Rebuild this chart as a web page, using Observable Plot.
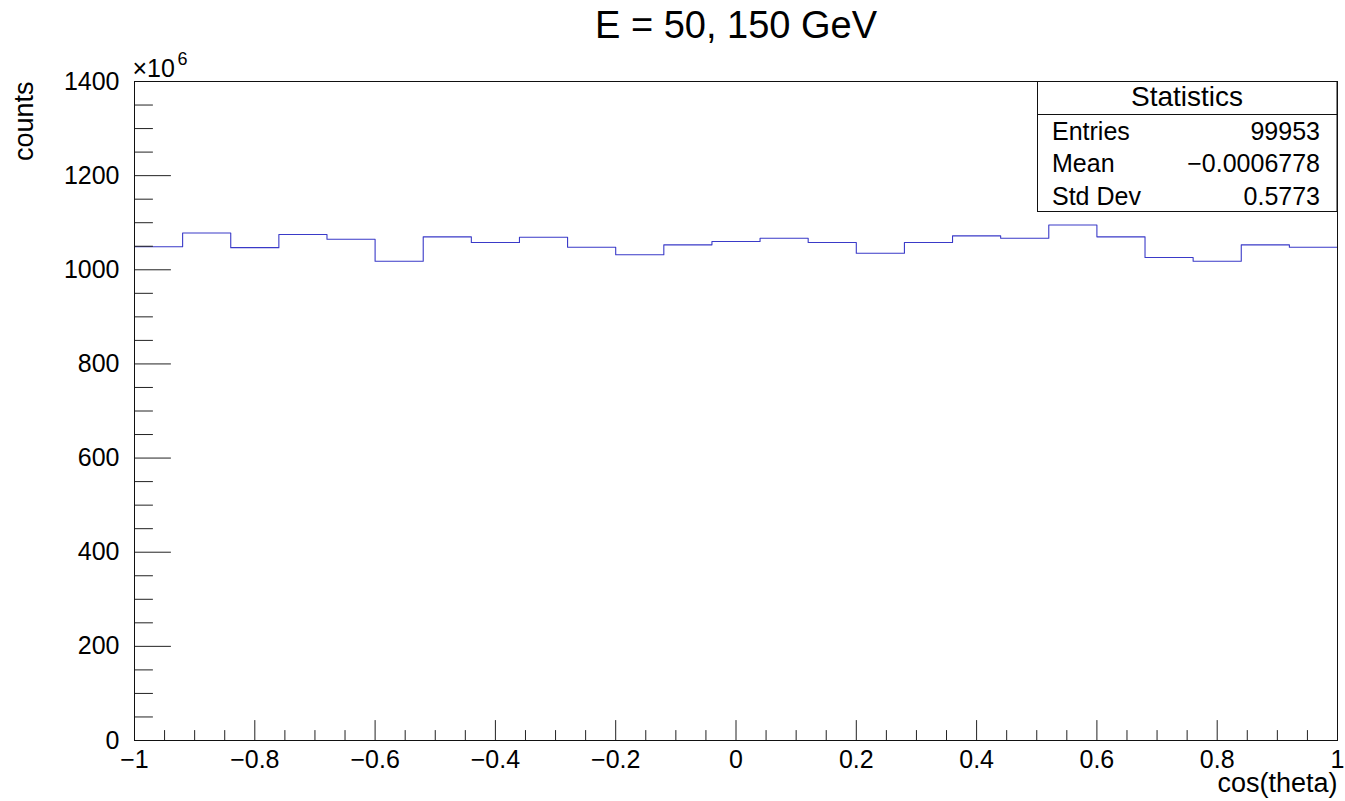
<!DOCTYPE html>
<html><head><meta charset="utf-8">
<script src="https://cdn.jsdelivr.net/npm/d3@7"></script>
<script src="https://cdn.jsdelivr.net/npm/@observablehq/plot@0.6"></script>
<style>
body{margin:0;background:#fff}
svg{display:block}
</style>
</head><body><div id="chart"></div>
<script>
const title = "E = 50, 150 GeV";
const xTitle = "cos(theta)";
const yTitle = "counts";
const yExponentBase = "\u00d710";
const yExponent = "6";
// histogram bins: lower edges, width 0.08 (25 bins from -1 to 1)
const binLow = [-1, -0.92, -0.84, -0.76, -0.68, -0.6, -0.52, -0.44, -0.36, -0.28, -0.2, -0.12, -0.04,
                0.04, 0.12, 0.2, 0.28, 0.36, 0.44, 0.52, 0.6, 0.68, 0.76, 0.84, 0.92];
const binHigh = 1;
// counts in units of 10^6
const counts = [1049, 1078, 1047, 1075, 1065, 1018, 1070, 1058, 1069, 1048, 1032, 1053, 1060,
                1067, 1058, 1035, 1058, 1072, 1067, 1095, 1070, 1026, 1018, 1053, 1048];
const xMajorTicks = [-1, -0.8, -0.6, -0.4, -0.2, 0, 0.2, 0.4, 0.6, 0.8, 1];
const xTickLabels = ["\u22121", "\u22120.8", "\u22120.6", "\u22120.4", "\u22120.2", "0", "0.2", "0.4", "0.6", "0.8", "1"];
const xMinorTicks = [-0.95, -0.9, -0.85, -0.75, -0.7, -0.65, -0.55, -0.5, -0.45, -0.35, -0.3, -0.25, -0.15, -0.1, -0.05,
                     0.05, 0.1, 0.15, 0.25, 0.3, 0.35, 0.45, 0.5, 0.55, 0.65, 0.7, 0.75, 0.85, 0.9, 0.95];
const yMajorTicks = [0, 200, 400, 600, 800, 1000, 1200, 1400];
const yTickLabels = ["0", "200", "400", "600", "800", "1000", "1200", "1400"];
const yMinorTicks = [50, 100, 150, 250, 300, 350, 450, 500, 550, 650, 700, 750, 850, 900, 950, 1050, 1100, 1150, 1250, 1300, 1350];
const statsTitle = "Statistics";
const statsLabels = ["Entries", "Mean", "Std Dev"];
const statsValues = ["99953", "\u22120.0006778", "0.5773"];

const FONT = "'Liberation Sans', Arial, Helvetica, sans-serif";
const lineColor = "#3a3ac8";

const steps = binLow.map((x, i) => ({x, y: counts[i]}));
steps.push({x: binHigh, y: counts[counts.length - 1]});

const tickShape = {draw(context, l) { context.moveTo(0, 0); context.lineTo(0, -l); }};

const W = 1345, H = 801;
const mL = 134, mR = 8, mT = 81, mB = 61;

const chart = Plot.plot({
  width: W, height: H,
  marginLeft: mL, marginRight: mR, marginTop: mT, marginBottom: mB,
  style: {fontFamily: FONT, background: "#fff", overflow: "visible"},
  x: {domain: [-1, 1], axis: null},
  y: {domain: [0, 1400], axis: null},
  marks: [
    Plot.line(steps, {x: "x", y: "y", curve: "step-after", stroke: lineColor, strokeWidth: 1.1}),
    // x ticks (inside)
    Plot.vector(xMajorTicks, {x: d => d, frameAnchor: "bottom", length: 20, rotate: 0, anchor: "start", shape: tickShape, stroke: "#222", strokeWidth: 1}),
    Plot.vector(xMinorTicks, {x: d => d, frameAnchor: "bottom", length: 10, rotate: 0, anchor: "start", shape: tickShape, stroke: "#222", strokeWidth: 1}),
    // y ticks
    Plot.vector(yMajorTicks, {y: d => d, frameAnchor: "left", length: 36, rotate: 90, anchor: "start", shape: tickShape, stroke: "#222", strokeWidth: 1}),
    Plot.vector(yMinorTicks, {y: d => d, frameAnchor: "left", length: 18, rotate: 90, anchor: "start", shape: tickShape, stroke: "#222", strokeWidth: 1}),
    Plot.frame({stroke: "#111", strokeWidth: 1}),
    // tick labels
    Plot.text(xMajorTicks, {x: d => d, text: (d, i) => xTickLabels[i], frameAnchor: "bottom", lineAnchor: "bottom", dy: 27, fontSize: 25, fill: "#000"}),
    Plot.text(yMajorTicks, {y: d => d, text: (d, i) => yTickLabels[i], frameAnchor: "left", textAnchor: "end", dx: -15, fontSize: 25, fill: "#000"}),
    // titles
    Plot.text([title], {frameAnchor: "top", lineAnchor: "bottom", dy: -44, fontSize: 38, fill: "#000"}),
    Plot.text([xTitle], {frameAnchor: "bottom-right", textAnchor: "end", lineAnchor: "bottom", dy: 51, fontSize: 27, fill: "#000"}),
    Plot.text([yTitle], {frameAnchor: "top-left", textAnchor: "end", lineAnchor: "bottom", rotate: -90, dx: -102, fontSize: 27, fill: "#000"}),
    Plot.text([yExponentBase], {frameAnchor: "top-left", textAnchor: "start", lineAnchor: "bottom", dx: -2, dy: -5, fontSize: 25, fill: "#000"}),
    Plot.text([yExponent], {frameAnchor: "top-left", textAnchor: "start", lineAnchor: "bottom", dx: 43, dy: -17, fontSize: 18, fill: "#000"})
  ]
});

document.getElementById("chart").appendChild(chart);

// statistics box
const svg = d3.select(chart.tagName.toLowerCase() === "svg" ? chart : chart.querySelector("svg"));
const bx0 = 1037, bx1 = W - mR, by0 = mT, by1 = 211;
const g = svg.append("g").attr("font-family", FONT).attr("fill", "#000");
g.append("rect").attr("x", bx0 + 0.5).attr("y", by0 + 0.5).attr("width", bx1 - bx0 - 0.5).attr("height", by1 - by0)
  .attr("fill", "#fff").attr("stroke", "#111").attr("stroke-width", 1);
g.append("line").attr("x1", bx0).attr("x2", bx1).attr("y1", 114.5).attr("y2", 114.5).attr("stroke", "#111");
g.append("text").attr("x", (bx0 + bx1) / 2).attr("y", 106).attr("text-anchor", "middle").attr("font-size", 28).text(statsTitle);
const rowBase = [140, 172, 205];
statsLabels.forEach((lab, i) => {
  g.append("text").attr("x", 1052).attr("y", rowBase[i]).attr("text-anchor", "start").attr("font-size", 25).text(lab);
  g.append("text").attr("x", 1320).attr("y", rowBase[i]).attr("text-anchor", "end").attr("font-size", 25).text(statsValues[i]);
});
</script>
</body></html>
